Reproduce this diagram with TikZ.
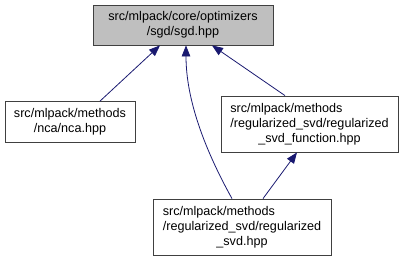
\documentclass[tikz,border=0pt]{standalone}
\usepackage{fontspec}
\setmainfont{Liberation Sans}
\usetikzlibrary{arrows.meta,calc}
\definecolor{edgeblue}{HTML}{191970}
\definecolor{boxline}{HTML}{404040}
\definecolor{curfill}{HTML}{BFBFBF}
\newcommand{\flab}[2]{\begin{tabular}{@{}l@{}}#1\\\multicolumn{1}{@{}c@{}}{#2}\end{tabular}}
\begin{document}
\begin{tikzpicture}[x=1pt,y=-1pt,
  filebox/.style={draw=boxline, line width=0.8pt, fill=white, inner sep=0pt,
    font=\fontsize{12.6}{15}\selectfont, align=center},
  curbox/.style={filebox, fill=curfill},
  dep/.style={draw=edgeblue, line width=0.8pt,
    -{Triangle[length=11pt,width=8.5pt]}}]
\useasboundingbox (0,0) rectangle (410,260);

% header files
\node[curbox, minimum width=180pt, minimum height=40pt] (sgd) at (183,25)
  {\flab{src/mlpack/core/optimizers}{/sgd/sgd.hpp}};
\node[filebox, minimum width=130pt, minimum height=41pt] (nca) at (70,122)
  {\flab{src/mlpack/methods}{/nca/nca.hpp}};
\node[filebox, minimum width=177pt, minimum height=56pt] (rsvdf) at (309.5,124)
  {\flab{src/mlpack/methods\\/regularized\_svd/regularized}{\_svd\_function.hpp}};
\node[filebox, minimum width=178pt, minimum height=56pt] (rsvd) at (242,227)
  {\flab{src/mlpack/methods\\/regularized\_svd/regularized}{\_svd.hpp}};

% include dependencies
\draw[dep] ($(nca.north)+(30,0)$) -- ($(sgd.south)+(-23,0)$);
\draw[dep] ($(rsvd.north)+(-10,0)$) .. controls (205,150) and (186,100) .. ($(sgd.south)+(3,0)$);
\draw[dep] ($(rsvdf.north)+(-24.5,0)$) -- ($(sgd.south)+(29,0)$);
\draw[dep] ($(rsvd.north)+(21,0)$) -- ($(rsvdf.south)+(-12.5,0)$);
\end{tikzpicture}
\end{document}
